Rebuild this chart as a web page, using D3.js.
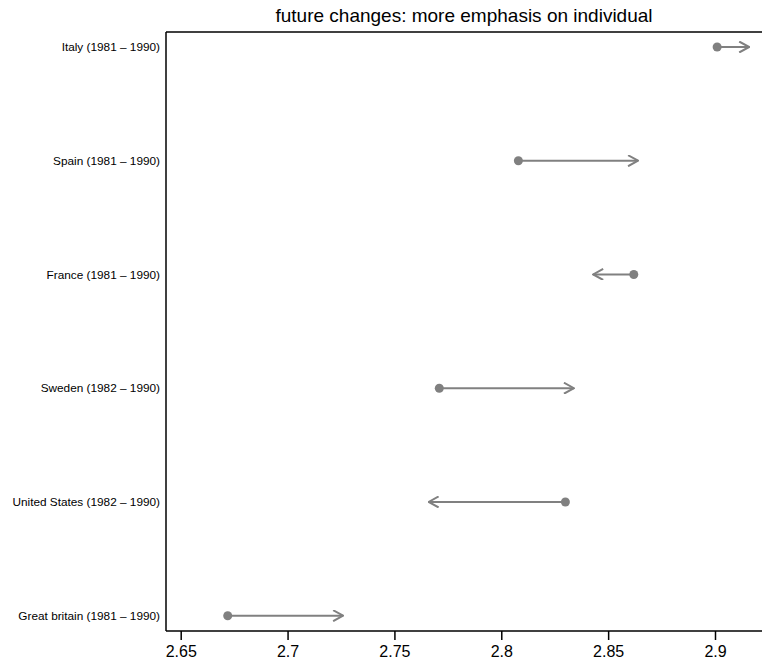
<!DOCTYPE html>
<html lang="en">
<head>
  <meta charset="UTF-8">
  <title>future changes</title>
  <script src="https://d3js.org/d3.v7.min.js"></script>
  <style>
    body { margin: 0; background: #fff; }
    text { font-family: "Liberation Sans", Arial, sans-serif; }
  </style>
</head>
<body>
  <div id="viz"></div>

  <script>
    // Data
    const countries = ["Italy (1981 \u2013 1990)", "Spain (1981 \u2013 1990)", "France (1981 \u2013 1990)",
                       "Sweden (1982 \u2013 1990)", "United States (1982 \u2013 1990)", "Great britain (1981 \u2013 1990)"];
    const startValues = [2.901, 2.808, 2.862, 2.771, 2.830, 2.672];
    const endValues   = [2.916, 2.864, 2.843, 2.834, 2.766, 2.726];
    const xTicks = [2.65, 2.7, 2.75, 2.8, 2.85, 2.9];
    const title = "future changes: more emphasis on individual";

    const actualWidth = 762, actualHeight = 664;
    const plotLeft = 166, plotTop = 32, plotBottom = 631;

    const svg = d3.select('#viz')
      .append('svg')
        .attr('width', actualWidth)
        .attr('height', actualHeight);

    const x = d3.scaleLinear()
      .domain([2.65, 2.9])
      .range([180.7, 715]);
    const y = d3.scalePoint()
      .domain(countries)
      .range([47, 615.7]);

    const grey = '#808080';

    svg.append('defs').append('marker')
        .attr('id', 'arrow')
        .attr('viewBox', '0 0 12 12')
        .attr('refX', 11)
        .attr('refY', 6)
        .attr('markerWidth', 12)
        .attr('markerHeight', 12)
        .attr('markerUnits', 'userSpaceOnUse')
        .attr('orient', 'auto')
      .append('path')
        .attr('d', 'M1,0.5 L11,6 L1,11.5')
        .attr('fill', 'none')
        .attr('stroke', grey)
        .attr('stroke-width', 2);

    // frame: left, top
    svg.append('line')
      .attr('x1', plotLeft).attr('x2', plotLeft).attr('y1', plotTop).attr('y2', plotBottom)
      .attr('stroke', '#000').attr('stroke-width', 1.5);
    svg.append('line')
      .attr('x1', plotLeft).attr('x2', actualWidth).attr('y1', plotTop).attr('y2', plotTop)
      .attr('stroke', '#000').attr('stroke-width', 1.5);

    // x axis
    const xAxis = svg.append('g')
      .attr('transform', `translate(0, ${plotBottom})`)
      .call(d3.axisBottom(x).tickValues(xTicks).tickFormat(d3.format('')).tickSize(9).tickSizeOuter(0));
    xAxis.select('.domain').remove();
    xAxis.append('line')
      .attr('x1', plotLeft).attr('x2', actualWidth)
      .attr('stroke', '#000').attr('stroke-width', 1.5);
    xAxis.selectAll('.tick line').attr('stroke', '#000').attr('stroke-width', 1.5);
    xAxis.selectAll('.tick text')
      .attr('y', 15)
      .attr('fill', '#000')
      .style('font-size', '16px')
      .style('font-family', '"Liberation Sans", Arial, sans-serif');

    // y labels
    svg.append('g')
      .selectAll('text')
      .data(countries)
      .join('text')
        .attr('x', plotLeft - 6)
        .attr('y', d => y(d))
        .attr('dy', '0.35em')
        .attr('text-anchor', 'end')
        .style('font-size', '11.8px')
        .text(d => d);

    // arrows
    const rows = countries.map((c, i) => ({ c, s: startValues[i], e: endValues[i] }));
    svg.append('g')
      .selectAll('line')
      .data(rows)
      .join('line')
        .attr('x1', d => x(d.s))
        .attr('x2', d => x(d.e))
        .attr('y1', d => y(d.c))
        .attr('y2', d => y(d.c))
        .attr('stroke', grey)
        .attr('stroke-width', 2)
        .attr('marker-end', 'url(#arrow)');

    svg.append('g')
      .selectAll('circle')
      .data(rows)
      .join('circle')
        .attr('cx', d => x(d.s))
        .attr('cy', d => y(d.c))
        .attr('r', 4.5)
        .attr('fill', grey);

    // title
    svg.append('text')
      .attr('x', (plotLeft + actualWidth) / 2)
      .attr('y', 22)
      .attr('text-anchor', 'middle')
      .style('font-size', '19px')
      .text(title);
  </script>
</body>
</html>
